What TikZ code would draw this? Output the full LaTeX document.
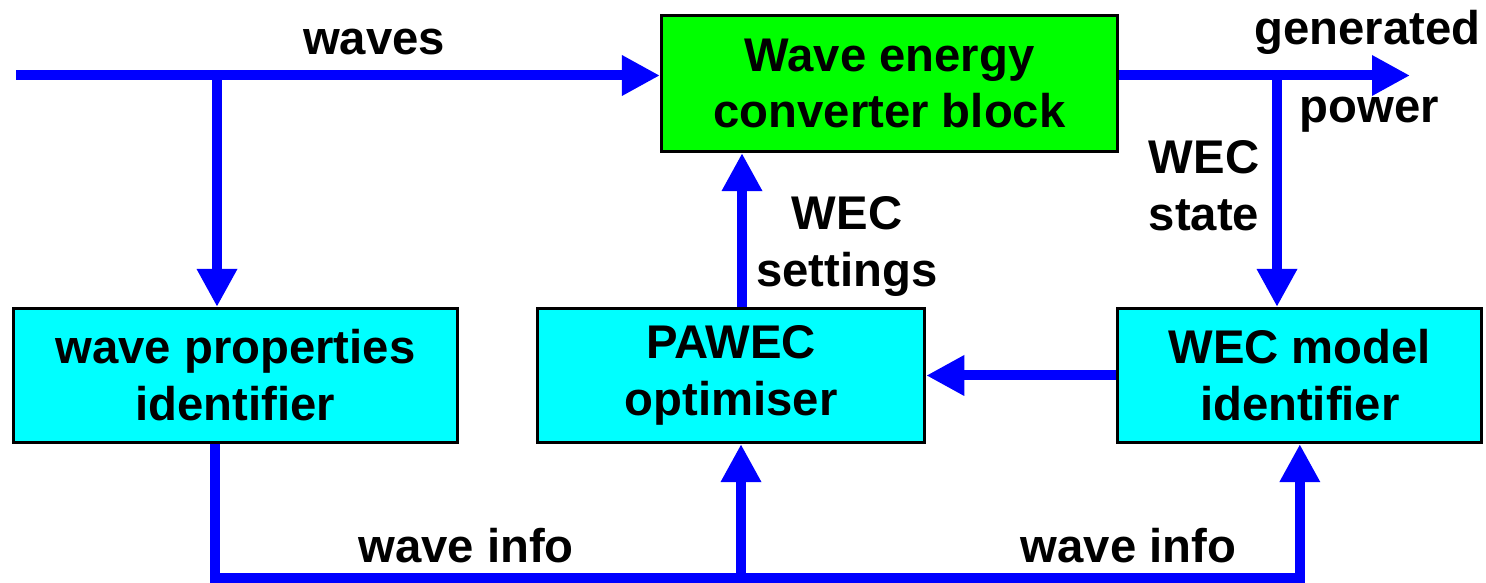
\documentclass[tikz,border=0pt]{standalone}
\usepackage{fontspec}
\setmainfont{Liberation Sans}
\usepackage{tikz}
\usetikzlibrary{
  arrows.meta,
  positioning
}
\definecolor{FlowBlue}{RGB}{0,0,255}
\definecolor{ConvGreen}{RGB}{0,255,0}
\definecolor{IdentCyan}{RGB}{0,255,255}
\newcommand{\diagfont}{\fontsize{13.45pt}{16.2pt}\selectfont\bfseries}
\tikzset{
  convnode/.style={draw=black,fill=ConvGreen,line width=0.9pt,minimum height=1.36cm,minimum width=4.56cm,align=center,font=\diagfont},
  identnode/.style={draw=black,fill=IdentCyan,line width=0.9pt,minimum height=1.34cm,align=center,font=\diagfont},
  flowarrow/.style={-{Triangle[length=3.8mm,width=3.8mm]},line width=1mm,draw=FlowBlue},
  flowlabel/.style={inner sep=0pt,align=center,font=\diagfont}
}
\begin{document}
\begin{tikzpicture}
\useasboundingbox (0,0) rectangle (14.86,5.83);

\node[identnode, minimum width=4.44cm] (wpi) at (2.355,2.075) {wave properties\\identifier};
\node[identnode, minimum width=3.87cm, right=0.77cm of wpi] (pawec) {PAWEC\\optimiser};
\node[identnode, minimum width=3.64cm, right=1.90cm of pawec] (wmi) {WEC model\\identifier};
\node[convnode] (wec) at (8.895,4.995) {Wave energy\\converter block};

\coordinate (win) at (0.16,5.075);
\coordinate (wsplit) at (2.17,5.075);
\coordinate (pout) at (14.10,5.075);
\coordinate (psplit) at (12.77,5.075);
\coordinate (sset) at (7.42,3.0);
\coordinate (ibot) at (2.15,0.05);
\coordinate (ijoin) at (7.41,0.05);

% waves in, generated power out
\draw[flowarrow] (win) -- (win -| wec.west);
\draw[flowarrow] (wsplit) -- (wsplit |- wpi.north);
\draw[flowarrow] (wec.east |- pout) -- (pout);
\draw[flowarrow] (psplit) -- (psplit |- wmi.north);

% control loop
\draw[flowarrow] (sset |- pawec.north) -- (sset |- wec.south);
\draw[flowarrow] (wmi.west) -- (pawec.east);
\draw[flowarrow] (ibot |- wpi.south) -- (ibot) -| (wmi.south);
\draw[flowarrow] (ijoin) -- (ijoin |- pawec.south);

\node[flowlabel, anchor=base] (lwaves) at (3.74,5.28) {waves};
\node[flowlabel, anchor=base] (lgen) at (13.675,5.38) {generated};
\node[flowlabel, anchor=base] (lpow) at (13.695,4.60) {power};
\node[flowlabel, anchor=north] (lstate) at (12.04,4.43) {WEC\\state};
\node[flowlabel, anchor=north] (lset) at (8.47,3.87) {WEC\\settings};
\node[flowlabel, anchor=base] (linfoa) at (4.66,0.20) {wave info};
\node[flowlabel, anchor=base] (linfob) at (11.285,0.20) {wave info};
\end{tikzpicture}
\end{document}
